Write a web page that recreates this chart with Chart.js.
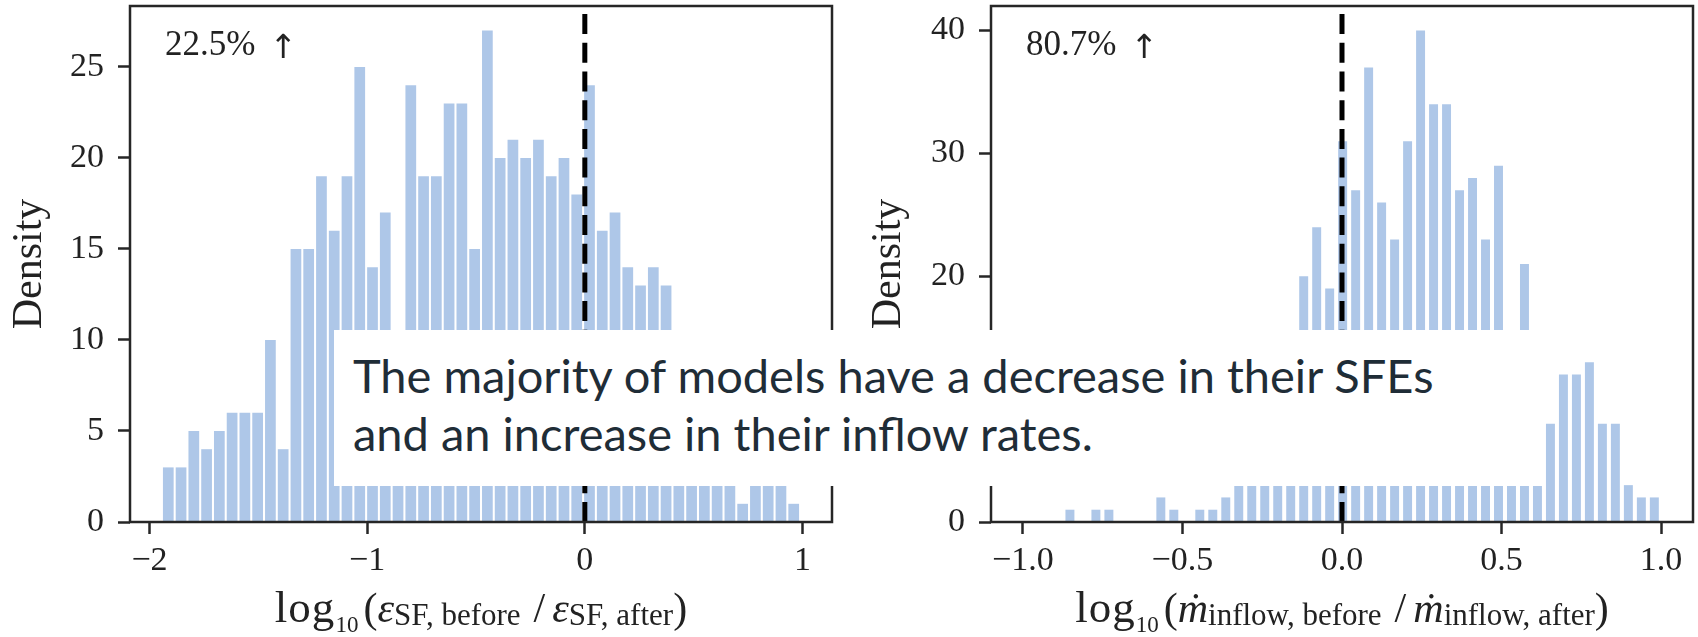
<!DOCTYPE html>
<html>
<head>
<meta charset="utf-8">
<script src="https://cdn.jsdelivr.net/npm/chart.js@4.4.1/dist/chart.umd.min.js"></script>
<style>
  html, body { margin: 0; padding: 0; background: #fff; }
  body { width: 1698px; height: 637px; position: relative; overflow: hidden; }
  canvas { position: absolute; top: 0; }
  #c-sfe { left: 0; }
  #c-inflow { left: 849px; }
  .xlab {
    position: absolute; top: 586px; line-height: 42px; white-space: nowrap;
    font-family: "Liberation Serif", "Times New Roman", serif; font-size: 42px; color: #222;
    transform: translateX(-50%);
  }
  .xlab .log { font-size: 45px; letter-spacing: 1px; }
  .xlab .s { font-size: 31px; position: relative; top: 3px; }
  .xlab .s10 { font-size: 23px; position: relative; top: 10px; margin-right: 5px; }
  .xlab .sl { margin: 0 7px 0 13px; }
  #note {
    position: absolute; left: 334px; top: 330px; width: 1210px; height: 156px;
    box-sizing: border-box; padding: 16px 0 0 19px; background: #fff; z-index: 5;
    font-family: Lato, "Open Sans", sans-serif; font-size: 47px; line-height: 58px; color: #1f2d37;
  }
</style>
</head>
<body>
<canvas id="c-sfe" width="849" height="637"></canvas>
<canvas id="c-inflow" width="849" height="637"></canvas>
<div class="xlab" style="left:481px"><span class="log">log</span><span class="s10">10</span>(<i>ε</i><span class="s">SF, before</span><span class="sl">/</span><i>ε</i><span class="s">SF, after</span>)</div>
<div class="xlab" style="left:1342px"><span class="log">log</span><span class="s10">10</span>(<i>ṁ</i><span class="s">inflow, before</span><span class="sl">/</span><i>ṁ</i><span class="s">inflow, after</span>)</div>
<div id="note">The majority of models have a decrease in their SFEs<br>and an increase in their inflow rates.</div>
<script>
  const SERIF = '"Liberation Serif", "Times New Roman", serif';

  // panel 1: log10(eps_SF,before / eps_SF,after), 50 histogram bins
  const sfeBinStart = -1.943;
  const sfeBinWidth = 0.05864;
  const sfeDensity = [3, 3, 5, 4, 5, 6, 6, 6, 10, 4,
                      15, 15, 19, 16, 19, 25, 14, 17, 9, 24,
                      19, 19, 23, 23, 15, 27, 20, 21, 20, 21,
                      19, 20, 18, 24, 16, 17, 14, 13, 14, 13,
                      9, 8, 6, 5, 4, 1, 3, 2, 2, 1];
  const sfeXTicks = [-2, -1, 0, 1];
  const sfeXTickLabels = ["\u22122", "\u22121", "0", "1"];
  const sfeYTicks = [0, 5, 10, 15, 20, 25];
  const sfeXRange = [-2.0896, 1.1356];
  const sfeYMax = 28.35;
  const sfeNote = "22.5%";

  // panel 2: log10(mdot_inflow,before / mdot_inflow,after), 46 bins
  const inflowBinStart = -0.873;
  const inflowBinWidth = 0.0407;
  const inflowDensity = [1, 0, 1, 1, 0, 0, 0, 2, 1, 0,
                         1, 1, 2, 3, 3, 5, 8, 12, 20, 24,
                         19, 31, 27, 37, 26, 23, 31, 40, 34, 34,
                         27, 28, 23, 29, 12, 21, 10, 8, 12, 12,
                         13, 8, 8, 3, 2, 2];
  const inflowXTicks = [-1, -0.5, 0, 0.5, 1];
  const inflowXTickLabels = ["\u22121.0", "\u22120.5", "0.0", "0.5", "1.0"];
  const inflowYTicks = [0, 10, 20, 30, 40];
  const inflowXRange = [-1.1, 1.1];
  const inflowYMax = 42;
  const inflowNote = "80.7%";

  const AXIS = "#262626";

  // frame round the plot area + the "xx% ↑" note in the upper left corner
  const frameAndNote = {
    id: "frameAndNote",
    afterDatasetsDraw(chart, args, opts) {
      const { ctx, chartArea: a } = chart;
      ctx.save();
      ctx.strokeStyle = AXIS;
      ctx.lineWidth = 2.5;
      ctx.strokeRect(a.left, a.top, a.right - a.left, a.bottom - a.top);
      const x = a.left + 0.05 * (a.right - a.left);
      const y = a.top + 0.095 * (a.bottom - a.top);
      ctx.fillStyle = "#222";
      ctx.textBaseline = "alphabetic";
      ctx.font = "35px " + SERIF;
      ctx.fillText(opts.text, x, y);
      const w = ctx.measureText(opts.text).width;
      ctx.font = '33px "DejaVu Sans"';
      ctx.fillText("\u2191", x + w + 14, y + 3);
      ctx.restore();
    }
  };

  function histPanel(id, p) {
    const bars = p.density.map((v, k) => ({ x: p.binStart + (k + 0.5) * p.binWidth, y: v }));
    const tickFont = { family: SERIF, size: 34 };
    return new Chart(document.getElementById(id), {
      type: "bar",
      data: {
        datasets: [
          { type: "line", data: [{ x: 0, y: 0 }, { x: 0, y: p.yMax }], borderColor: "#000", borderWidth: 5,
            borderDash: [20, 8.7], pointRadius: 0, order: 0 },
          { data: bars, backgroundColor: "#aec7e8", barPercentage: p.barPct, categoryPercentage: 1, order: 1 }
        ]
      },
      options: {
        responsive: false, animation: false, devicePixelRatio: 1,
        layout: { padding: { left: 0, right: p.padRight, top: 6, bottom: 0 } },
        plugins: { legend: { display: false }, tooltip: { enabled: false }, frameAndNote: { text: p.note } },
        scales: {
          x: {
            type: "linear", min: p.xRange[0], max: p.xRange[1], offset: false,
            grid: { offset: false, drawOnChartArea: false, tickLength: 12, tickWidth: 2.5, tickColor: AXIS },
            border: { display: false },
            afterBuildTicks: (s) => { s.ticks = p.xTicks.map((v) => ({ value: v })); },
            ticks: { callback: (v, i) => p.xTickLabels[i], font: tickFont, color: "#222", padding: 7, maxRotation: 0, autoSkip: false },
            afterFit: (s) => { s.height = 115; s.paddingLeft = 0; s.paddingRight = 0; }
          },
          y: {
            min: 0, max: p.yMax,
            grid: { drawOnChartArea: false, tickLength: 12, tickWidth: 2.5, tickColor: AXIS },
            border: { display: false },
            afterBuildTicks: (s) => { s.ticks = p.yTicks.map((v) => ({ value: v })); },
            ticks: { font: tickFont, color: "#222", padding: 14 },
            title: { display: true, text: "Density", font: { family: SERIF, size: 42 }, color: "#222", padding: { top: p.titlePad } },
            afterFit: (s) => { s.width = p.yAxisWidth; s.paddingTop = 0; s.paddingBottom = 0; }
          }
        }
      },
      plugins: [frameAndNote]
    });
  }

  histPanel("c-sfe", {
    density: sfeDensity, binStart: sfeBinStart, binWidth: sfeBinWidth,
    xTicks: sfeXTicks, xTickLabels: sfeXTickLabels, yTicks: sfeYTicks,
    xRange: sfeXRange, yMax: sfeYMax, note: sfeNote,
    barPct: 0.84, padRight: 17, yAxisWidth: 130, titlePad: 5
  });
  histPanel("c-inflow", {
    density: inflowDensity, binStart: inflowBinStart, binWidth: inflowBinWidth,
    xTicks: inflowXTicks, xTickLabels: inflowXTickLabels, yTicks: inflowYTicks,
    xRange: inflowXRange, yMax: inflowYMax, note: inflowNote,
    barPct: 0.69, padRight: 5, yAxisWidth: 142, titlePad: 15
  });
</script>
</body>
</html>
